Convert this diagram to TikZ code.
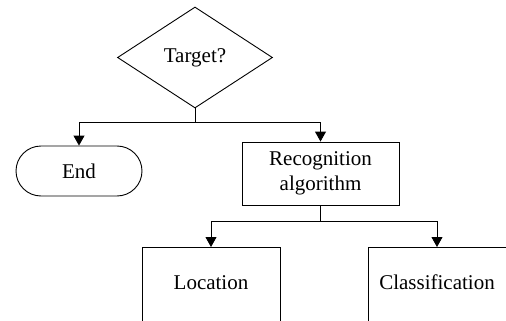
\documentclass[tikz,border=0pt]{standalone}
\usepackage{fontspec}
\setmainfont{Liberation Serif}
\usetikzlibrary{shapes.geometric,shapes.misc,arrows.meta}
\begin{document}
\begin{tikzpicture}[x=1pt,y=-1pt,
  every node/.style={font=\fontsize{21}{25}\selectfont, line width=0.9pt},
  line/.style={line width=0.9pt},
  arr/.style={line width=0.9pt,-{Triangle[length=10pt,width=11pt]}},
  openbox/.style={draw, rectangle, minimum width=138pt, inner xsep=0pt, inner ysep=0pt, text height=42pt, text depth=70pt}
]
\useasboundingbox (0,0) rectangle (506,321);
\clip (0,0) rectangle (506,321);
\node[draw, diamond, minimum width=155pt, minimum height=101pt, aspect=1.53, inner sep=0pt] (t) at (195,57.5) {Target?};
\node[draw, rounded rectangle, minimum width=126pt, minimum height=50pt, inner sep=0pt] (e) at (79,171) {End};
\node[draw, rectangle, minimum width=157pt, minimum height=63pt, align=center, inner sep=0pt] (r) at (320.5,173.5) {Recognition\\algorithm};
\node[openbox, anchor=north] (l) at (211,247) {Location};
\node[openbox, anchor=north] (c) at (437,247) {Classification};
\coordinate (j1) at (195,122);
\coordinate (j2) at (320.5,221);
\draw[line] (t.south) -- (j1);
\draw[arr] (j1) -| (e.north);
\draw[arr] (j1) -| (r.north);
\draw[line] (r.south) -- (j2);
\draw[arr] (j2) -| (l.north);
\draw[arr] (j2) -| (c.north);
\end{tikzpicture}
\end{document}
